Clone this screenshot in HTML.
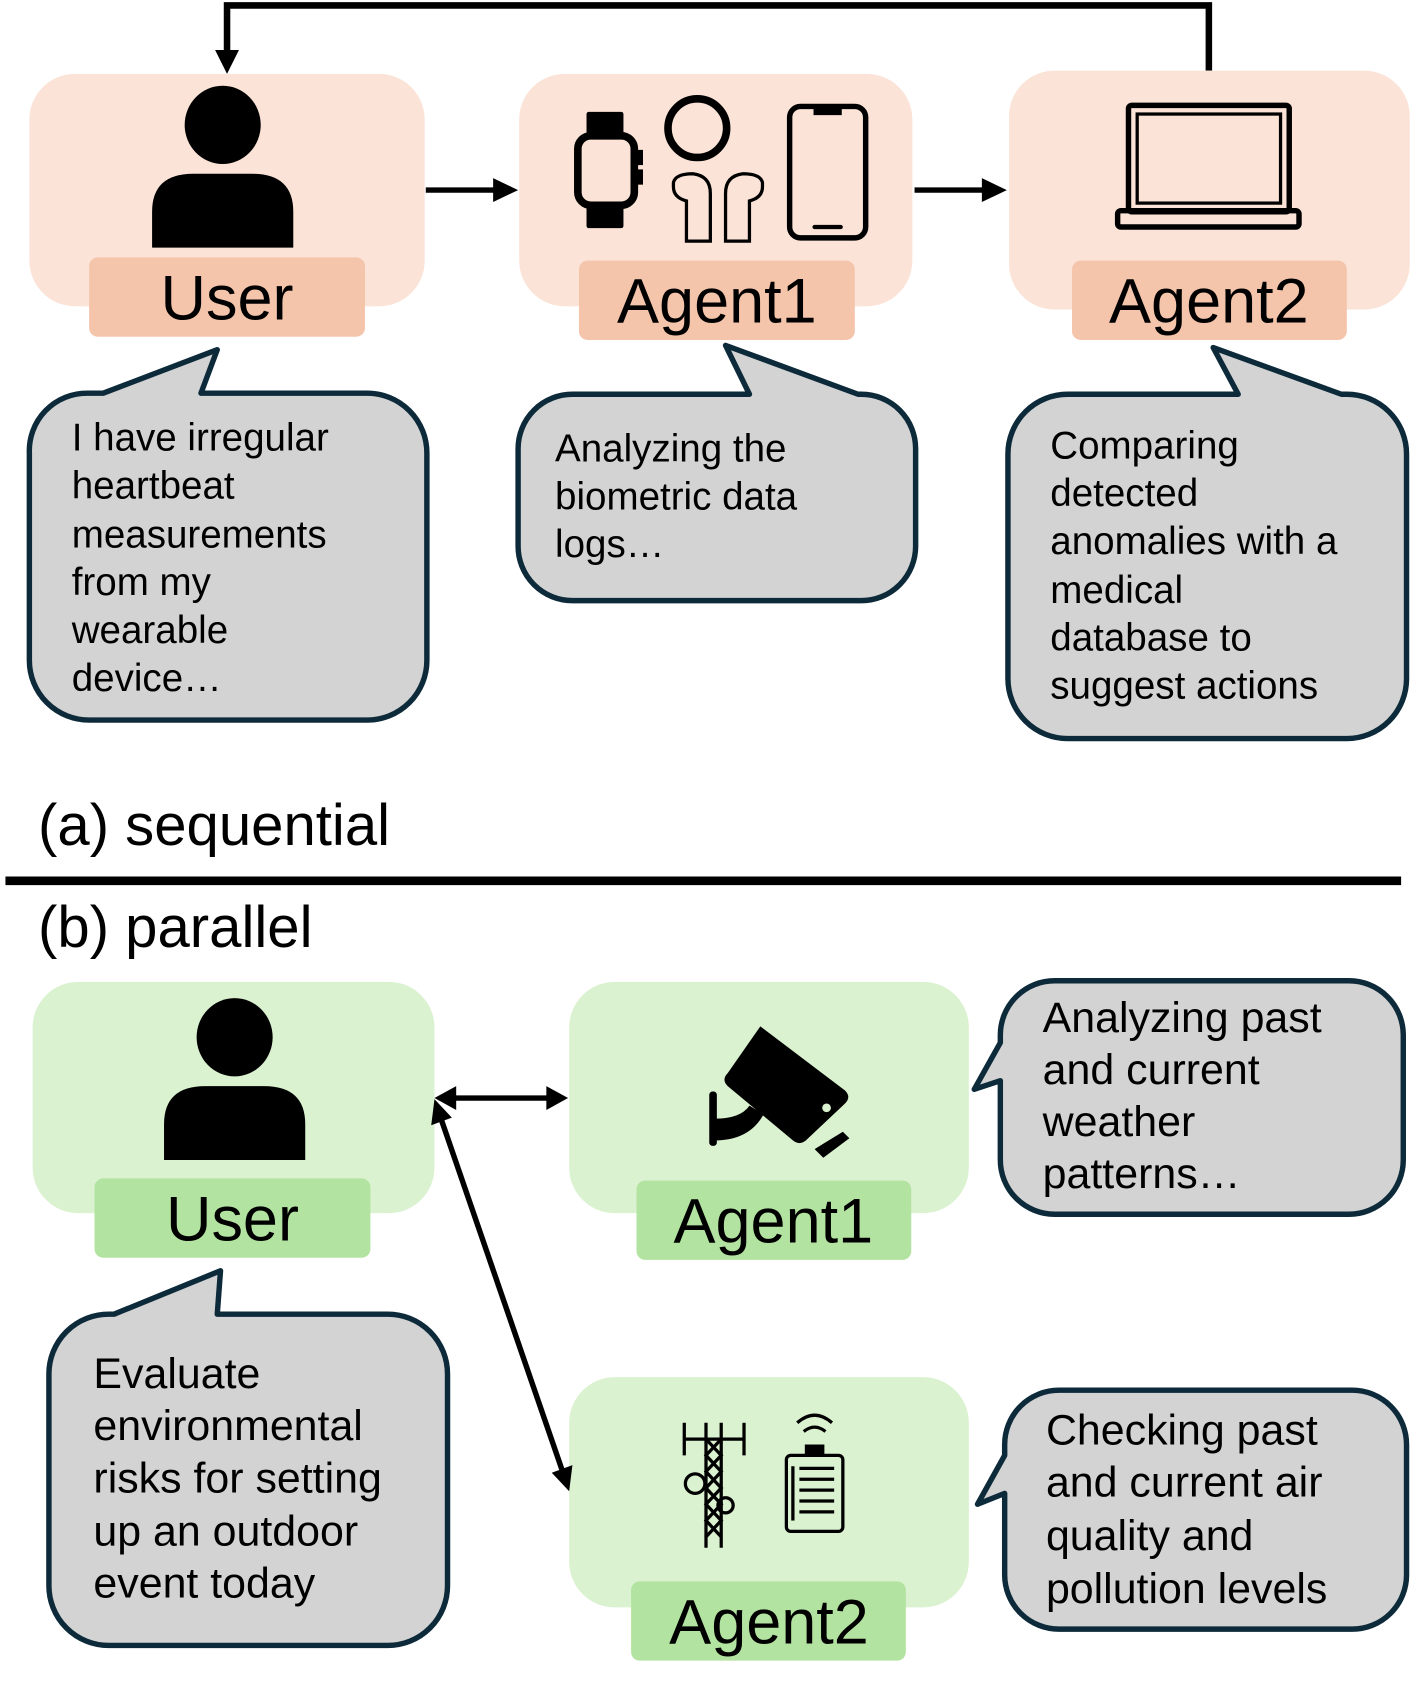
<!DOCTYPE html>
<html><head><meta charset="utf-8"><style>
html,body{margin:0;padding:0;background:#fff;}
svg{display:block;}
text{font-family:"Liberation Sans",Arial,sans-serif;fill:#000;}
</style></head><body>
<svg width="1412" height="1703" viewBox="0 0 1300 1568" xmlns="http://www.w3.org/2000/svg">
<!-- top feedback arrow -->
<polyline points="1113,65 1113,5 209,5 209,50" fill="none" stroke="#000" stroke-width="6"/>
<path d="M198,46 L220,46 L209,68 Z" fill="#000"/>

<!-- (a) boxes -->
<rect x="27" y="68" width="364" height="214" rx="42" fill="#fbe3d7"/>
<rect x="478" y="68" width="362" height="214" rx="42" fill="#fbe3d7"/>
<rect x="929" y="65" width="369" height="220" rx="42" fill="#fbe3d7"/>
<rect x="82" y="237" width="254" height="73" rx="8" fill="#f5c5ab"/>
<rect x="533" y="240" width="254" height="73" rx="8" fill="#f5c5ab"/>
<rect x="987" y="240" width="253" height="73" rx="8" fill="#f5c5ab"/>
<text x="209" y="294" font-size="58" text-anchor="middle">User</text>
<text x="660" y="297" font-size="58" text-anchor="middle">Agent1</text>
<text x="1113" y="297" font-size="58" text-anchor="middle">Agent2</text>

<!-- arrows a -->
<line x1="392" y1="175" x2="458" y2="175" stroke="#000" stroke-width="5"/>
<path d="M454,164 L477,175 L454,186 Z" fill="#000"/>
<line x1="842" y1="175" x2="908" y2="175" stroke="#000" stroke-width="5"/>
<path d="M904,164 L927,175 L904,186 Z" fill="#000"/>

<!-- user icon a -->
<ellipse cx="205" cy="115" rx="35" ry="36" fill="#000"/>
<path d="M140,228 L140,195 Q140,160 178,160 L232,160 Q270,160 270,195 L270,228 Z" fill="#000"/>

<!-- devices -->
<rect x="540" y="103" width="34" height="22" rx="2" fill="#000"/>
<rect x="540" y="188" width="34" height="22" rx="2" fill="#000"/>
<rect x="532" y="125" width="52" height="64" rx="12" fill="none" stroke="#000" stroke-width="7"/>
<rect x="585" y="138" width="7" height="14" fill="#000"/><rect x="585" y="156" width="7" height="14" fill="#000"/>
<circle cx="642" cy="118" r="27" fill="none" stroke="#000" stroke-width="7"/>
<path d="M632,222 L632,185 Q620,182 620,172 L620,168 Q622,160 638,160 Q654,162 654,178 L654,222 Z" fill="none" stroke="#000" stroke-width="3"/>
<path d="M690,222 L690,185 Q702,182 702,172 L702,168 Q700,160 684,160 Q668,162 668,178 L668,222 Z" fill="none" stroke="#000" stroke-width="3"/>
<rect x="727" y="98" width="70" height="121" rx="10" fill="none" stroke="#000" stroke-width="5"/>
<rect x="749" y="98" width="26" height="8" fill="#000"/>
<rect x="748" y="207" width="28" height="4" rx="2" fill="#000"/>

<!-- laptop -->
<rect x="1039" y="97" width="148" height="98" rx="3" fill="none" stroke="#000" stroke-width="5"/>
<rect x="1047" y="105" width="132" height="82" fill="none" stroke="#000" stroke-width="3"/>
<rect x="1029" y="194" width="167" height="15" rx="3" fill="none" stroke="#000" stroke-width="5"/>

<!-- bubbles a -->
<g fill="#d3d3d3" stroke="#0d2a3a" stroke-width="5" stroke-linejoin="round">
<path d="M80,362 L95,362 L200,322 L185,362 L338,362 A55,55 0 0 1 393,417 L393,608 A55,55 0 0 1 338,663 L82,663 A55,55 0 0 1 27,608 L27,417 A53,53 0 0 1 80,362 Z"/>
<path d="M527,363 L690,363 L668,318 L790,363 L793,363 A50,50 0 0 1 843,413 L843,503 A50,50 0 0 1 793,553 L527,553 A50,50 0 0 1 477,503 L477,413 A50,50 0 0 1 527,363 Z"/>
<path d="M983,363 L1140,363 L1117,320 L1235,363 L1240,363 A55,55 0 0 1 1295,418 L1295,625 A55,55 0 0 1 1240,680 L983,680 A55,55 0 0 1 928,625 L928,418 A55,55 0 0 1 983,363 Z"/>
</g>
<g font-size="35.5">
<text x="66" y="415">I have irregular</text>
<text x="66" y="459">heartbeat</text>
<text x="66" y="504">measurements</text>
<text x="66" y="548">from my</text>
<text x="66" y="592">wearable</text>
<text x="66" y="636">device…</text>
<text x="511" y="425">Analyzing the</text>
<text x="511" y="469">biometric data</text>
<text x="511" y="513">logs…</text>
<text x="967" y="422">Comparing</text>
<text x="967" y="466">detected</text>
<text x="967" y="510">anomalies with a</text>
<text x="967" y="555">medical</text>
<text x="967" y="599">database to</text>
<text x="967" y="643">suggest actions</text>
</g>

<text x="35" y="778" font-size="53.5">(a) sequential</text>
<line x1="5" y1="811" x2="1290" y2="811" stroke="#000" stroke-width="8"/>
<text x="35" y="872" font-size="53.5">(b) parallel</text>

<!-- (b) boxes -->
<rect x="30" y="904" width="370" height="213" rx="42" fill="#daf2d0"/>
<rect x="524" y="904" width="368" height="213" rx="42" fill="#daf2d0"/>
<rect x="524" y="1268" width="368" height="212" rx="42" fill="#daf2d0"/>
<rect x="87" y="1085" width="254" height="73" rx="8" fill="#b3e3a0"/>
<rect x="586" y="1087" width="253" height="73" rx="8" fill="#b3e3a0"/>
<rect x="581" y="1456" width="253" height="73" rx="8" fill="#b3e3a0"/>
<text x="214" y="1142" font-size="58" text-anchor="middle">User</text>
<text x="712" y="1144" font-size="58" text-anchor="middle">Agent1</text>
<text x="708" y="1513" font-size="58" text-anchor="middle">Agent2</text>

<ellipse cx="216" cy="955" rx="35" ry="36" fill="#000"/>
<path d="M151,1068 L151,1035 Q151,1000 189,1000 L243,1000 Q281,1000 281,1035 L281,1068 Z" fill="#000"/>

<!-- camera -->
<path d="M700,945 L778,1004 Q784,1010 778,1016 L742,1050 Q736,1055 730,1050 L670,1000 Q664,994 670,988 Z" fill="#000"/>
<circle cx="761" cy="1020" r="4" fill="#daf2d0"/>
<path d="M750,1058 L776,1042 L782,1048 L758,1066 Z" fill="#000"/>
<rect x="653" y="1005" width="7" height="50" rx="3" fill="#000"/>
<path d="M658,1030 Q682,1030 690,1018 L703,1026 Q690,1050 658,1050 Z" fill="#000"/>

<!-- tower -->
<g stroke="#000" stroke-width="3" fill="none">
<line x1="650" y1="1310" x2="650" y2="1425"/><line x1="664" y1="1310" x2="664" y2="1425"/>
<path d="M650,1325 L664,1340 L650,1355 L664,1370 L650,1385 L664,1400 L650,1415 M664,1325 L650,1340 L664,1355 L650,1370 L664,1385 L650,1400 L664,1415"/>
<line x1="630" y1="1310" x2="630" y2="1340"/><line x1="685" y1="1310" x2="685" y2="1340"/>
<line x1="630" y1="1325" x2="685" y2="1325"/>
<circle cx="640" cy="1366" r="9"/><circle cx="668" cy="1386" r="7"/>
</g>
<!-- device -->
<g stroke="#000" stroke-width="3" fill="none">
<path d="M734,1310 Q750,1296 766,1310 M740,1318 Q750,1310 760,1318"/>
<rect x="724" y="1340" width="52" height="70" rx="4"/>
<line x1="736" y1="1352" x2="768" y2="1352"/><line x1="736" y1="1362" x2="768" y2="1362"/><line x1="736" y1="1372" x2="768" y2="1372"/><line x1="736" y1="1382" x2="768" y2="1382"/><line x1="736" y1="1392" x2="768" y2="1392"/>
<line x1="730" y1="1350" x2="730" y2="1400"/>
</g>
<rect x="741" y="1330" width="18" height="10" fill="#000"/>

<!-- double arrows -->
<line x1="416" y1="1011" x2="506" y2="1011" stroke="#000" stroke-width="5"/>
<path d="M420,1000 L400,1011 L420,1022 Z" fill="#000"/>
<path d="M503,1000 L523,1011 L503,1022 Z" fill="#000"/>
<line x1="406" y1="1030" x2="518" y2="1355" stroke="#000" stroke-width="5"/>
<path d="M400,1012 L397,1036 L416,1029 Z" fill="#000"/>
<path d="M524,1373 L527,1349 L508,1356 Z" fill="#000"/>

<!-- bubbles b -->
<g fill="#d3d3d3" stroke="#0d2a3a" stroke-width="5" stroke-linejoin="round">
<path d="M971,903 L1242,903 A50,50 0 0 1 1292,953 L1292,1068 A50,50 0 0 1 1242,1118 L971,1118 A50,50 0 0 1 921,1068 L921,995 L897,1003 L921,960 L921,953 A50,50 0 0 1 971,903 Z"/>
<path d="M975,1280 L1245,1280 A50,50 0 0 1 1295,1330 L1295,1450 A50,50 0 0 1 1245,1500 L975,1500 A50,50 0 0 1 925,1450 L925,1375 L900,1385 L925,1340 L925,1330 A50,50 0 0 1 975,1280 Z"/>
<path d="M100,1210 L105,1210 L203,1170 L200,1210 L357,1210 A55,55 0 0 1 412,1265 L412,1460 A55,55 0 0 1 357,1515 L100,1515 A55,55 0 0 1 45,1460 L45,1265 A55,55 0 0 1 100,1210 Z"/>
</g>
<g font-size="39.5">
<text x="960" y="950">Analyzing past</text>
<text x="960" y="998">and current</text>
<text x="960" y="1046">weather</text>
<text x="960" y="1094">patterns…</text>
<text x="963" y="1330">Checking past</text>
<text x="963" y="1378">and current air</text>
<text x="963" y="1427">quality and</text>
<text x="963" y="1476">pollution levels</text>
<text x="86" y="1278">Evaluate</text>
<text x="86" y="1326">environmental</text>
<text x="86" y="1374">risks for setting</text>
<text x="86" y="1423">up an outdoor</text>
<text x="86" y="1471">event today</text>
</g>
</svg>
</body></html>
